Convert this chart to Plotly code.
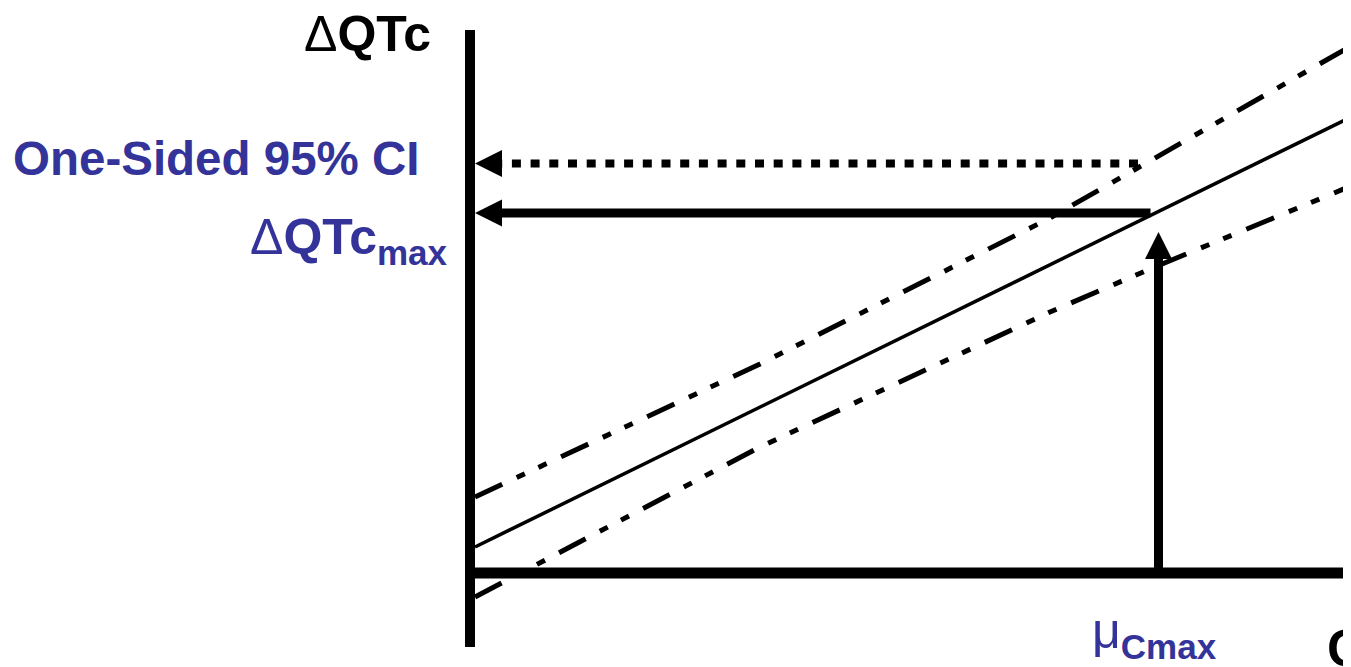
import plotly.graph_objects as go

# schematic concentration / delta-QTc diagram (arbitrary units)
conc = [0.05, 2.9, 5.8, 6.8, 8.81]
dqtc_mean = [0.52, 3.32, 6.16, 7.14, 9.12]
dqtc_upper = [1.52, 4.18, 7.10, 8.24, 10.54]
dqtc_lower = [-0.48, 2.52, 5.22, 6.08, 7.74]

c_max = 6.885          # mu Cmax
dqtc_max = 7.2         # predicted dQTc at Cmax
ci_upper = 8.19        # one-sided 95% CI upper bound
ci_arrow_start = 6.68
cmax_arrow_top = 6.82

axis_top = 10.86
axis_bottom = -1.48
axis_right = 9.2

# page has an 8px body margin, so the figure is a bit smaller than the window
x_range = [-4.62, 8.81]
y_range = [-1.88, 11.30]

W, H = 1343, 659
px_x = W / (x_range[1] - x_range[0])
px_y = H / (y_range[1] - y_range[0])

blue = "#333399"
font_family = "Liberation Sans, Arial, sans-serif"
dashdot = "30px,16px,9px,15px,9px,16px"

fig = go.Figure()

fig.add_trace(go.Scatter(x=conc, y=dqtc_mean, mode="lines",
                         line=dict(color="black", width=3.5)))
fig.add_trace(go.Scatter(x=conc, y=dqtc_upper, mode="lines",
                         line=dict(color="black", width=5, dash=dashdot)))
fig.add_trace(go.Scatter(x=conc, y=dqtc_lower, mode="lines",
                         line=dict(color="black", width=5, dash=dashdot)))

head_len, head_w = 27, 27
tip_x = 0.05

shapes = []
# axes
shapes.append(dict(type="line", x0=0, x1=0, y0=axis_bottom, y1=axis_top,
                   line=dict(color="black", width=10)))
shapes.append(dict(type="line", x0=-0.05, x1=axis_right, y0=0, y1=0,
                   line=dict(color="black", width=11)))

# dotted arrow to CI bound
shapes.append(dict(type="line", x0=ci_arrow_start, x1=tip_x + head_len / px_x,
                   y0=ci_upper, y1=ci_upper,
                   line=dict(color="black", width=8, dash="9px,9.7px")))
# solid arrow to dQTc max
shapes.append(dict(type="line", x0=c_max - 0.08, x1=tip_x + head_len / px_x,
                   y0=dqtc_max, y1=dqtc_max,
                   line=dict(color="black", width=9)))
# vertical arrow from Cmax
shapes.append(dict(type="line", x0=c_max, x1=c_max, y0=0,
                   y1=cmax_arrow_top - head_len / px_y,
                   line=dict(color="black", width=9)))

left_head = "M0,0 L%d,%g L%d,%g Z" % (head_len, head_w / 2, head_len, -head_w / 2)
up_head = "M0,0 L%g,%d L%g,%d Z" % (-head_w / 2, -head_len, head_w / 2, -head_len)
for yy in [ci_upper, dqtc_max]:
    shapes.append(dict(type="path", xsizemode="pixel", ysizemode="pixel",
                       xanchor=tip_x, yanchor=yy, path=left_head,
                       fillcolor="black", line=dict(width=0)))
shapes.append(dict(type="path", xsizemode="pixel", ysizemode="pixel",
                   xanchor=c_max, yanchor=cmax_arrow_top, path=up_head,
                   fillcolor="black", line=dict(width=0)))

annotations = [
    dict(x=-1.03, y=10.78, text="Δ<b>QTc</b>", showarrow=False,
         font=dict(family=font_family, size=50, color="black")),
    dict(x=-0.48, y=8.29, xanchor="right", text="<b>One-Sided 95% CI</b>",
         showarrow=False, font=dict(family=font_family, size=47.5, color=blue)),
    dict(x=-0.2, y=6.66, xanchor="right", text="Δ<b>QTc<sub>max</sub></b>",
         showarrow=False, font=dict(family=font_family, size=50, color=blue)),
    dict(x=c_max - 0.045, y=-1.22, text="μ<b><sub>Cmax</sub></b>", showarrow=False,
         font=dict(family=font_family, size=50, color=blue)),
    dict(x=8.55, y=-1.5, xanchor="left", text="<b>C</b>", showarrow=False,
         font=dict(family=font_family, size=52, color="black")),
]

fig.update_layout(
    width=W, height=H,
    margin=dict(l=0, r=0, t=0, b=0),
    paper_bgcolor="white", plot_bgcolor="white",
    showlegend=False,
    xaxis=dict(range=x_range, visible=False, fixedrange=True),
    yaxis=dict(range=y_range, visible=False, fixedrange=True),
    shapes=shapes,
    annotations=annotations,
)

fig.write_html("out.html")
